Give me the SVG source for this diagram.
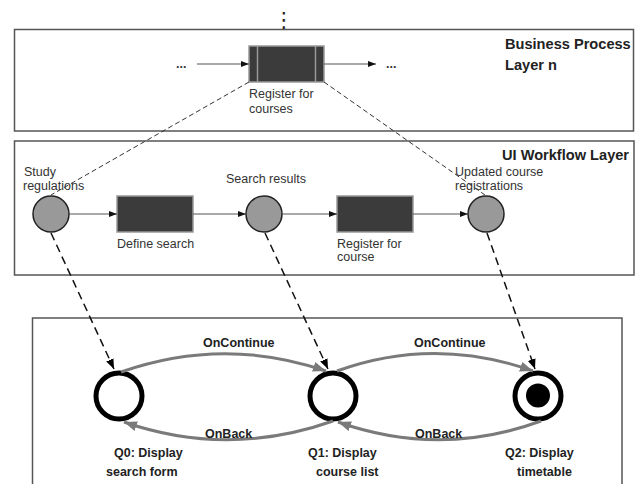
<svg xmlns="http://www.w3.org/2000/svg" width="641" height="484" viewBox="0 0 641 484">
<style>
.layer{fill:#fff;stroke:#555;stroke-width:1.5}
.t{font-family:"Liberation Sans",Arial,sans-serif;font-size:12.5px;fill:#333}
.b{font-family:"Liberation Sans",Arial,sans-serif;font-weight:bold;fill:#222}
.title{font-size:14.6px}
.lab{font-size:12.5px}
.task{fill:#3b3b3b;stroke:#999;stroke-width:1.5}
.ev{fill:#999;stroke:#222;stroke-width:1.5}
.flow{fill:none;stroke:#555;stroke-width:1}
.map{fill:none;stroke:#333;stroke-width:1;stroke-dasharray:5,3}
.dmap{fill:none;stroke:#111;stroke-width:1.5;stroke-dasharray:8,5}
.arc{fill:none;stroke:#7a7a7a;stroke-width:3}
.state{fill:#fff;stroke:#000;stroke-width:5}
</style>
<defs>
<marker id="ah" markerUnits="userSpaceOnUse" markerWidth="9" markerHeight="7" refX="8" refY="3" orient="auto"><path d="M0,0 L8,3 L0,6 z" fill="#111"/></marker>
<marker id="ahd" markerUnits="userSpaceOnUse" markerWidth="11" markerHeight="9" refX="10" refY="4" orient="auto"><path d="M0,0 L10,4 L0,8 z" fill="#000"/></marker>
<marker id="ahg" markerUnits="userSpaceOnUse" markerWidth="14" markerHeight="11" refX="13" refY="5" orient="auto"><path d="M0,0 L13,5 L0,10 z" fill="#7a7a7a"/></marker>
</defs>

<text x="284" y="27" font-family="DejaVu Sans,sans-serif" font-size="21" text-anchor="middle" fill="#222">⋮</text>

<g id="layer-bp">
<rect class="layer" x="14.5" y="29.5" width="619" height="101.5"/>
<text class="b title" x="505" y="49">Business Process</text>
<text class="b title" x="505" y="70">Layer n</text>
</g>
<g id="layer-ui">
<rect class="layer" x="14.5" y="141" width="619.5" height="134"/>
<text class="b title" x="502" y="160">UI Workflow Layer</text>
</g>
<g id="layer-states">
<rect class="layer" x="32.5" y="318" width="589.5" height="175"/>
</g>

<g id="bp-task">
<rect class="task" x="249" y="46" width="75" height="36"/>
<line x1="257.5" y1="46" x2="257.5" y2="82" stroke="#999" stroke-width="1.5"/>
<line x1="315.5" y1="46" x2="315.5" y2="82" stroke="#999" stroke-width="1.5"/>
<text class="t" x="249" y="98">Register for</text>
<text class="t" x="249" y="112.5">courses</text>
</g>
<g id="bp-dots-left"><text class="t" x="176" y="68" font-weight="bold" font-size="11">...</text></g>
<g id="bp-dots-right"><text class="t" x="386" y="68" font-weight="bold" font-size="11">...</text></g>

<g id="ui-study">
<circle class="ev" cx="51" cy="214" r="18"/>
<text class="t" x="24" y="176">Study</text>
<text class="t" x="23" y="190">regulations</text>
</g>
<g id="ui-define">
<rect class="task" x="117" y="196" width="76" height="36"/>
<text class="t" x="117" y="248">Define search</text>
</g>
<g id="ui-results">
<circle class="ev" cx="264" cy="214" r="18"/>
<text class="t" x="226" y="183">Search results</text>
</g>
<g id="ui-register">
<rect class="task" x="337" y="196" width="76" height="36"/>
<text class="t" x="337" y="248">Register for</text>
<text class="t" x="337" y="261">course</text>
</g>
<g id="ui-updated">
<circle class="ev" cx="486" cy="214" r="18"/>
<text class="t" x="455" y="175.5">Updated course</text>
<text class="t" x="455" y="189.5">registrations</text>
</g>

<g id="q0">
<circle class="state" cx="119" cy="396" r="23"/>
<text class="b lab" x="114" y="457">Q0: Display</text>
<text class="b lab" x="106" y="476">search form</text>
</g>
<g id="q1">
<circle class="state" cx="333" cy="396" r="23"/>
<text class="b lab" x="308" y="457">Q1: Display</text>
<text class="b lab" x="316" y="476">course list</text>
</g>
<g id="q2">
<circle class="state" cx="538" cy="396" r="23"/>
<circle cx="538" cy="395.5" r="12" fill="#000"/>
<text class="b lab" x="505" y="457">Q2: Display</text>
<text class="b lab" x="517" y="476">timetable</text>
</g>

<g id="connectors">
<line class="flow" x1="197" y1="64" x2="249" y2="64" marker-end="url(#ah)"/>
<line class="flow" x1="324" y1="64" x2="376" y2="64" marker-end="url(#ah)"/>
<line class="map" x1="249" y1="82" x2="51" y2="195"/>
<line class="map" x1="324" y1="82" x2="485" y2="195"/>
<line class="flow" x1="69" y1="214" x2="117" y2="214" marker-end="url(#ah)"/>
<line class="flow" x1="193" y1="214" x2="246" y2="214" marker-end="url(#ah)"/>
<line class="flow" x1="282" y1="214" x2="337" y2="214" marker-end="url(#ah)"/>
<line class="flow" x1="413" y1="214" x2="468" y2="214" marker-end="url(#ah)"/>
<line class="dmap" x1="51" y1="233" x2="114" y2="369" marker-end="url(#ahd)"/>
<line class="dmap" x1="265" y1="233" x2="328" y2="369" marker-end="url(#ahd)"/>
<line class="dmap" x1="487" y1="233" x2="535" y2="369" marker-end="url(#ahd)"/>
<path class="arc" d="M121,372 Q224,336 326,371" marker-end="url(#ahg)"/>
<path class="arc" d="M337,371 Q434,336 533,371" marker-end="url(#ahg)"/>
<path class="arc" d="M333,421 Q228,458 124,422" marker-end="url(#ahg)"/>
<path class="arc" d="M541,421 Q440,458 338,422" marker-end="url(#ahg)"/>
<text class="b lab" x="203" y="347">OnContinue</text>
<text class="b lab" x="414" y="347">OnContinue</text>
<text class="b lab" x="205" y="438">OnBack</text>
<text class="b lab" x="415" y="438">OnBack</text>
</g>
</svg>
